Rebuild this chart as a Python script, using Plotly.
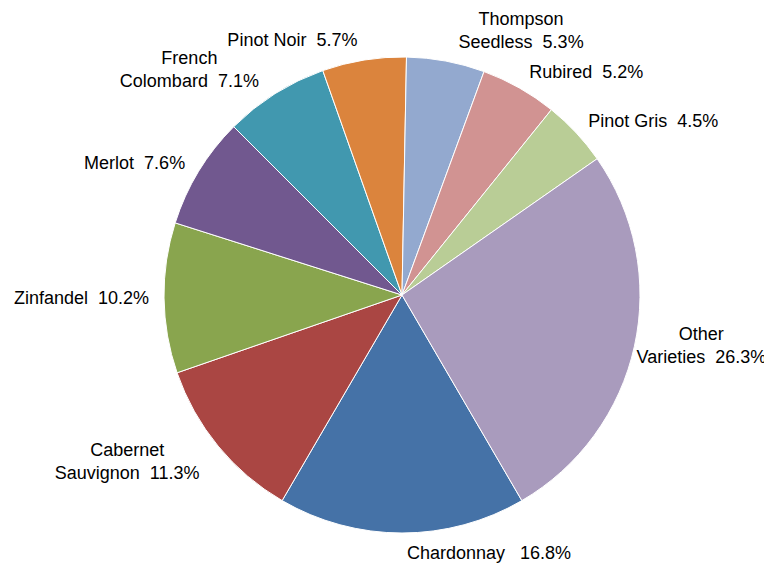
import plotly.graph_objects as go

varieties = ["Chardonnay", "Cabernet Sauvignon", "Zinfandel", "Merlot", "French Colombard",
             "Pinot Noir", "Thompson Seedless", "Rubired", "Pinot Gris", "Other Varieties"]
label_lines = ["Chardonnay\u00a0\u00a0\u00a0", "Cabernet<br>Sauvignon\u00a0\u00a0", "Zinfandel\u00a0\u00a0",
               "Merlot\u00a0\u00a0", "French<br>Colombard\u00a0\u00a0", "Pinot Noir\u00a0\u00a0",
               "Thompson<br>Seedless\u00a0\u00a0", "Rubired\u00a0\u00a0", "Pinot Gris\u00a0\u00a0",
               "Other<br>Varieties\u00a0\u00a0"]
shares = [16.8, 11.3, 10.2, 7.6, 7.1, 5.7, 5.3, 5.2, 4.5, 26.3]
colors = ["#4572A7", "#AA4643", "#89A54E", "#71588F", "#4198AF",
          "#DB843D", "#93A9CF", "#D19392", "#B9CD96", "#A99BBD"]

texts = [f"{l}{v:.1f}%" for l, v in zip(label_lines, shares)]
rotation = 180 - shares[0] / 100 * 360 / 2

W, H = 772, 571
cx, cy, R = 394, 287, 238
FONT = dict(family="Liberation Sans, Arial, sans-serif", size=18, color="#000000")


def dom(r):
    return dict(x=[(cx - r) / W, (cx + r) / W], y=[1 - (cy + r) / H, 1 - (cy - r) / H])


fig = go.Figure()
# the visible pie
fig.add_trace(go.Pie(
    labels=varieties, values=shares, textinfo="none", sort=False,
    direction="clockwise", rotation=rotation,
    marker=dict(colors=colors, line=dict(color="#FFFFFF", width=1)),
    hoverinfo="none", domain=dom(R), automargin=False,
))

# transparent label layers (same slices) so the outside labels sit at a distance like the reference
label_groups = [
    (248, [v not in ("Pinot Noir", "Other Varieties") for v in varieties]),
    (248, [v == "Pinot Noir" for v in varieties]),
    (229, [v == "Other Varieties" for v in varieties]),
]
for rl, show in label_groups:
    fig.add_trace(go.Pie(
        labels=varieties, values=shares, text=texts, textinfo="text",
        textposition=["outside" if s else "none" for s in show],
        sort=False, direction="clockwise", rotation=rotation,
        marker=dict(colors=["rgba(0,0,0,0)"] * len(shares), line=dict(width=0)),
        outsidetextfont=FONT, hoverinfo="none", domain=dom(rl), automargin=False,
    ))

fig.update_layout(
    width=W, height=H,
    margin=dict(l=0, r=0, t=0, b=0),
    showlegend=False,
    paper_bgcolor="#FFFFFF",
    plot_bgcolor="#FFFFFF",
)

fig.write_html("out.html")
